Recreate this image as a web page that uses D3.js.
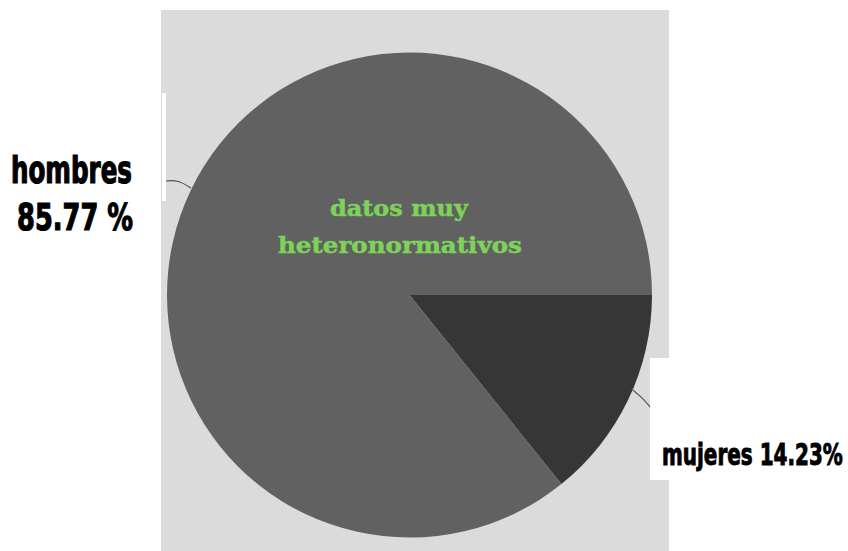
<!DOCTYPE html>
<html>
<head>
<meta charset="utf-8">
<script src="https://cdn.jsdelivr.net/npm/d3@7"></script>
<style>
  html, body { margin: 0; padding: 0; background: #ffffff; }
  svg { display: block; }
</style>
</head>
<body>
<svg id="chart" width="848" height="551"></svg>
<script>
// ---- data ----
const categories = ["mujeres", "hombres"];
const values = [14.23, 85.77];
const labelLines = [["mujeres 14.23%"], ["hombres", "85.77 %"]];
const centerTitle = ["datos muy", "heteronormativos"];
const sliceColors = ["#363636", "#616161"];

const svg = d3.select("#chart");
const cx = 409.5, cy = 295, R = 242.5;

// panel background
svg.append("rect").attr("x", 161).attr("y", 10).attr("width", 508).attr("height", 541).attr("fill", "#dbdbdb");

// white label boxes
svg.append("rect").attr("x", 162).attr("y", 93).attr("width", 4).attr("height", 108).attr("fill", "#ffffff");
svg.append("rect").attr("x", 650).attr("y", 358).attr("width", 20).attr("height", 122).attr("fill", "#ffffff");

const pie = d3.pie().sort(null).value(d => d)
  .startAngle(Math.PI / 2).endAngle(Math.PI / 2 + 2 * Math.PI);
const arcs = pie(values);
const arc = d3.arc().innerRadius(0).outerRadius(R);

const g = svg.append("g").attr("transform", `translate(${cx},${cy})`);
g.selectAll("path.slice").data(arcs).join("path")
  .attr("class", "slice")
  .attr("d", arc)
  .attr("fill", (d, i) => sliceColors[i]);

// mujeres leader
{
  const d = arcs[0];
  const a = d.startAngle + (d.endAngle - d.startAngle) * 0.45;
  const p0 = [cx + Math.sin(a) * R, cy - Math.cos(a) * R];
  svg.append("path")
    .attr("d", d3.line().curve(d3.curveBasis)([p0, [p0[0] + 10, p0[1] + 8], [650, 407]]))
    .attr("fill", "none").attr("stroke", "#555").attr("stroke-width", 1.2);
}
// hombres leader
svg.append("path")
  .attr("d", d3.line().curve(d3.curveBasis)([[166, 181], [178, 180], [191, 188]]))
  .attr("fill", "none").attr("stroke", "#555").attr("stroke-width", 1.2);

const labelFont = "'Liberation Sans Narrow', 'DejaVu Sans Condensed', 'Arial Narrow', sans-serif";

// draws a text squeezed horizontally to a target width; anchor: "start" | "middle" | "end"
function fitText(txt, x, y, width, opts) {
  const grp = svg.append("g");
  const t = grp.append("text")
    .attr("font-family", opts.family).attr("font-weight", "bold")
    .attr("font-size", opts.size).attr("fill", opts.color)
    .attr("stroke", opts.color).attr("stroke-width", opts.sw)
    .attr("x", 0).attr("y", 0).text(txt);
  const w = t.node().getComputedTextLength();
  const sx = width / w;
  let x0 = x;
  if (opts.anchor === "end") x0 = x - width;
  if (opts.anchor === "middle") x0 = x - width / 2;
  grp.attr("transform", `translate(${x0},${y}) scale(${sx},1)`);
}

fitText(labelLines[1][0], 132, 183, 121, {family: labelFont, size: 37, color: "#000", sw: 1.2, anchor: "end"});
fitText(labelLines[1][1], 133, 230, 116, {family: labelFont, size: 38, color: "#000", sw: 1.2, anchor: "end"});
fitText(labelLines[0][0], 662, 465, 181, {family: labelFont, size: 30, color: "#000", sw: 0.9, anchor: "start"});

const serif = "'DejaVu Serif', 'Liberation Serif', serif";
fitText(centerTitle[0], 399, 216, 138, {family: serif, size: 23, color: "#7dd35a", sw: 0.5, anchor: "middle"});
fitText(centerTitle[1], 400, 253, 244, {family: serif, size: 23, color: "#7dd35a", sw: 0.5, anchor: "middle"});
</script>
</body>
</html>
